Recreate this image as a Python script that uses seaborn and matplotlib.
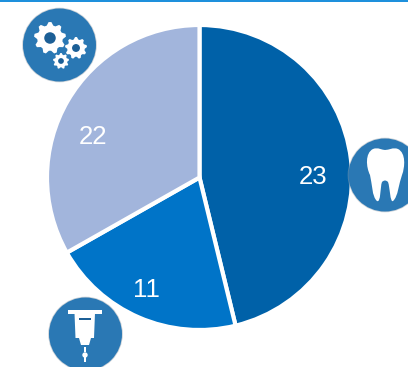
import numpy as np
import matplotlib
matplotlib.use("Agg")
import matplotlib.pyplot as plt
from matplotlib.patches import Circle, Polygon, Rectangle, PathPatch
from matplotlib.path import Path
import seaborn as sns

categories = ["Dental", "Instruments", "Equipment"]
shares = [46.2, 20.6, 33.2]
labels = ["23", "11", "22"]
colors = ["#0061a8", "#0074c8", "#a2b5dc"]

sns.set_theme(style="white")
plt.rcParams["font.family"] = ["Liberation Sans", "DejaVu Sans"]
palette = sns.color_palette(colors)

W, H = 408, 367
fig = plt.figure(figsize=(W / 100, H / 100), dpi=100, facecolor="white")
ax = fig.add_axes([0, 0, 1, 1])

wedges, _ = ax.pie(
    shares, colors=palette, startangle=90, counterclock=False,
    center=(199.5, H - 177.5), radius=152.5, frame=True,
    wedgeprops=dict(edgecolor="white", linewidth=3),
)
ax.set_xlim(0, W)
ax.set_ylim(0, H)
ax.set_aspect("equal")
ax.axis("off")

Y = lambda y: H - y
for (x, y), t in zip([(313, 177), (146, 290), (93, 137)], labels):
    ax.text(x, Y(y), t, color="white", fontsize=18.5, ha="center", va="center")

ax.add_patch(Rectangle((0, Y(1.5)), W, 1.5, color="#1e90dc", lw=0, clip_on=True))

ICON = "#2a78b4"
DARK = "#1c5f96"


def badge(cx, cy, r=36.5):
    ax.add_patch(Circle((cx, Y(cy)), r + 0.8, fc="#9aa6b0", ec="none", alpha=0.5))
    ax.add_patch(Circle((cx, Y(cy)), r, fc=ICON, ec="none"))


def gear(cx, cy, r, teeth=9, hole=0.36):
    n = teeth * 4
    ang = np.arange(n) / n * 2 * np.pi + np.pi / teeth / 4
    rad = np.where(np.arange(n) % 4 < 2, r, r * 0.8)
    pts = np.c_[cx + rad * np.cos(ang), Y(cy) + rad * np.sin(ang)]
    ax.add_patch(Polygon(pts, closed=True, fc="white", ec="none"))
    ax.add_patch(Circle((cx, Y(cy)), r * hole, fc=DARK, ec="none"))


# gears
badge(59.5, 45)
gear(50, 38, 16)
gear(76, 48, 11)
gear(61, 61, 8)

# tooth
badge(385, 175)
V, C = Path.MOVETO, Path.CURVE4
tx, ty = 385, 175
tooth = [
    (-12, -26, V),
    (-7, -28, C), (-3, -25, C), (0, -25, C),
    (4, -25, C), (8, -28, C), (13, -26, C),
    (21, -22, C), (20, -8, C), (17, 0, C),
    (14, 8, C), (13, 22, C), (8, 26, C),
    (5, 28, C), (5, 12, C), (3, 7, C),
    (1, 5, C), (-1, 5, C), (-3, 7, C),
    (-5, 12, C), (-4, 28, C), (-8, 26, C),
    (-13, 22, C), (-13, 8, C), (-15, 0, C),
    (-19, -8, C), (-20, -22, C), (-12, -26, C),
]
verts = [(tx + a, Y(ty + b)) for a, b, _ in tooth]
codes = [c for _, _, c in tooth]
ax.add_patch(PathPatch(Path(verts, codes), fc="white", ec="none"))

# handpiece
badge(85.5, 334)
hx = 85
ax.add_patch(Rectangle((hx - 17, Y(314)), 34, 4.5, fc="white", ec="none"))
ax.add_patch(Polygon([(hx - 10.5, Y(313)), (hx + 10, Y(313)), (hx + 9, Y(338)),
                      (hx - 9.5, Y(338))], fc="white", ec="none"))
ax.add_patch(Rectangle((hx - 6, Y(319.5)), 12, 2, fc=DARK, ec="none"))
ax.add_patch(Polygon([(hx - 6, Y(338)), (hx + 6, Y(338)), (hx + 4, Y(345)),
                      (hx - 4, Y(345))], fc="white", ec="none"))
ax.add_patch(Rectangle((hx - 1.2, Y(352)), 2.4, 5, fc="white", ec="none"))
ax.add_patch(Circle((hx, Y(355)), 2.7, fc="white", ec="none"))
ax.add_patch(Rectangle((hx - 1, Y(362)), 2, 6, fc="white", ec="none"))

fig.savefig("out.png", dpi=100)
